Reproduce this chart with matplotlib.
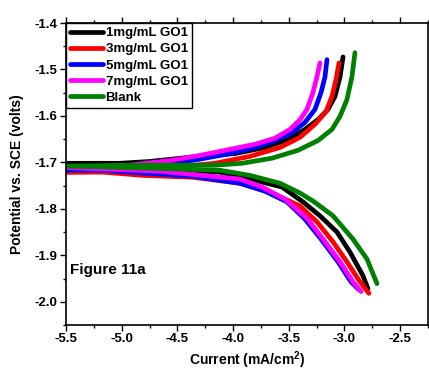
import matplotlib
matplotlib.use("Agg")
import matplotlib.pyplot as plt
from matplotlib.ticker import MultipleLocator

plt.rcParams['font.family'] = ['Liberation Sans', 'DejaVu Sans']
plt.rcParams['font.weight'] = 'bold'
plt.rcParams['axes.unicode_minus'] = False
plt.rcParams['mathtext.fontset'] = 'custom'
plt.rcParams['mathtext.rm'] = 'Liberation Sans:bold'
plt.rcParams['mathtext.bf'] = 'Liberation Sans:bold'

labels = ["1mg/mL GO1", "3mg/mL GO1", "5mg/mL GO1", "7mg/mL GO1", "Blank"]
colors = ["black", "red", "blue", "magenta", "green"]

# anodic (upper) branches: log current, potential
x_up_1 = [-5.5, -5.015, -4.746, -4.387, -3.983, -3.714, -3.507, -3.355, -3.238, -3.148, -3.085, -3.040, -3.013]
y_up_1 = [-1.702, -1.702, -1.698, -1.689, -1.681, -1.668, -1.651, -1.629, -1.608, -1.586, -1.558, -1.516, -1.473]
x_up_3 = [-5.5, -5.015, -4.566, -4.162, -3.848, -3.579, -3.399, -3.265, -3.166, -3.112, -3.076, -3.049]
y_up_3 = [-1.721, -1.719, -1.711, -1.702, -1.687, -1.668, -1.646, -1.618, -1.591, -1.558, -1.522, -1.486]
x_up_5 = [-5.5, -5.015, -4.656, -4.297, -4.028, -3.803, -3.624, -3.471, -3.355, -3.265, -3.211, -3.175, -3.157]
y_up_5 = [-1.717, -1.715, -1.706, -1.693, -1.681, -1.668, -1.653, -1.636, -1.614, -1.586, -1.550, -1.516, -1.479]
x_up_7 = [-5.5, -4.925, -4.566, -4.297, -4.028, -3.803, -3.624, -3.489, -3.399, -3.337, -3.283, -3.247, -3.220]
y_up_7 = [-1.711, -1.706, -1.696, -1.685, -1.672, -1.661, -1.648, -1.629, -1.608, -1.586, -1.550, -1.516, -1.486]
x_up_b = [-5.5, -4.746, -4.162, -3.920, -3.651, -3.417, -3.238, -3.112, -3.040, -2.978, -2.933, -2.906]
y_up_b = [-1.708, -1.706, -1.706, -1.702, -1.691, -1.674, -1.653, -1.629, -1.601, -1.565, -1.516, -1.464]

# cathodic (lower) branches
x_lo_1 = [-5.5, -4.746, -4.118, -3.848, -3.561, -3.373, -3.220, -3.067, -2.951, -2.834, -2.789]
y_lo_1 = [-1.706, -1.713, -1.721, -1.736, -1.753, -1.785, -1.815, -1.850, -1.893, -1.944, -1.972]
x_lo_3 = [-5.5, -5.168, -4.809, -4.360, -3.938, -3.669, -3.399, -3.247, -3.103, -2.978, -2.861, -2.780]
y_lo_3 = [-1.721, -1.721, -1.728, -1.732, -1.745, -1.764, -1.794, -1.828, -1.871, -1.914, -1.957, -1.982]
x_lo_5 = [-5.5, -5.168, -4.809, -4.360, -3.938, -3.714, -3.516, -3.355, -3.211, -3.058, -2.942, -2.870]
y_lo_5 = [-1.715, -1.717, -1.723, -1.730, -1.745, -1.762, -1.785, -1.822, -1.865, -1.914, -1.957, -1.974]
x_lo_7 = [-5.5, -4.656, -3.938, -3.741, -3.534, -3.337, -3.193, -3.040, -2.924, -2.852]
y_lo_7 = [-1.711, -1.719, -1.736, -1.753, -1.779, -1.820, -1.865, -1.914, -1.957, -1.978]
x_lo_b = [-5.5, -4.656, -4.118, -3.848, -3.579, -3.399, -3.283, -3.103, -2.924, -2.798, -2.708]
y_lo_b = [-1.708, -1.713, -1.717, -1.728, -1.745, -1.766, -1.783, -1.815, -1.865, -1.908, -1.961]

ups = [(x_up_1, y_up_1), (x_up_3, y_up_3), (x_up_5, y_up_5), (x_up_7, y_up_7), (x_up_b, y_up_b)]
lows = [(x_lo_1, y_lo_1), (x_lo_3, y_lo_3), (x_lo_5, y_lo_5), (x_lo_7, y_lo_7), (x_lo_b, y_lo_b)]

fig = plt.figure(figsize=(4.29, 3.71), dpi=100)
ax = fig.add_axes([0.1538, 0.124, 0.8439, 0.814])

for (xu, yu), (xl, yl), c, lab in zip(ups, lows, colors, labels):
    ax.plot(xu, yu, color=c, lw=3.4, solid_capstyle='round', solid_joinstyle='round', label=lab)
    ax.plot(xl, yl, color=c, lw=3.4, solid_capstyle='round', solid_joinstyle='round')

ax.set_xlim(-5.5, -2.25)
ax.set_ylim(-2.05, -1.4)
ax.xaxis.set_major_locator(MultipleLocator(0.5))
ax.xaxis.set_minor_locator(MultipleLocator(0.25))
ax.yaxis.set_major_locator(MultipleLocator(0.1))
ax.yaxis.set_minor_locator(MultipleLocator(0.05))
ax.tick_params(axis='both', which='major', direction='out', length=4, width=1, labelsize=9.5, pad=2)
ax.tick_params(axis='both', which='minor', direction='out', length=2.5, width=1)
ax.tick_params(axis='x', which='both', top=True)
ax.tick_params(axis='y', which='both', right=False)
for s in ax.spines.values():
    s.set_linewidth(1.2)

ax.set_xlabel(r'Current (mA/cm$^{2}$)', fontsize=10, fontweight='bold', labelpad=3)
ax.set_ylabel('Potential vs. SCE (volts)', fontsize=10, fontweight='bold', labelpad=8)

ax.text(0.01, 0.182, 'Figure 11a', transform=ax.transAxes, fontsize=11,
        fontweight='bold', va='center', ha='left')

leg = ax.legend(loc='upper left', borderaxespad=0, fontsize=9.5, handlelength=2.5,
                labelspacing=0.3, handletextpad=0.2, borderpad=0.3, fancybox=False,
                framealpha=1)
leg.get_frame().set_edgecolor('black')
leg.get_frame().set_linewidth(1)
for ln in leg.get_lines():
    ln.set_linewidth(3.4)

fig.savefig('out.png', dpi=100)
